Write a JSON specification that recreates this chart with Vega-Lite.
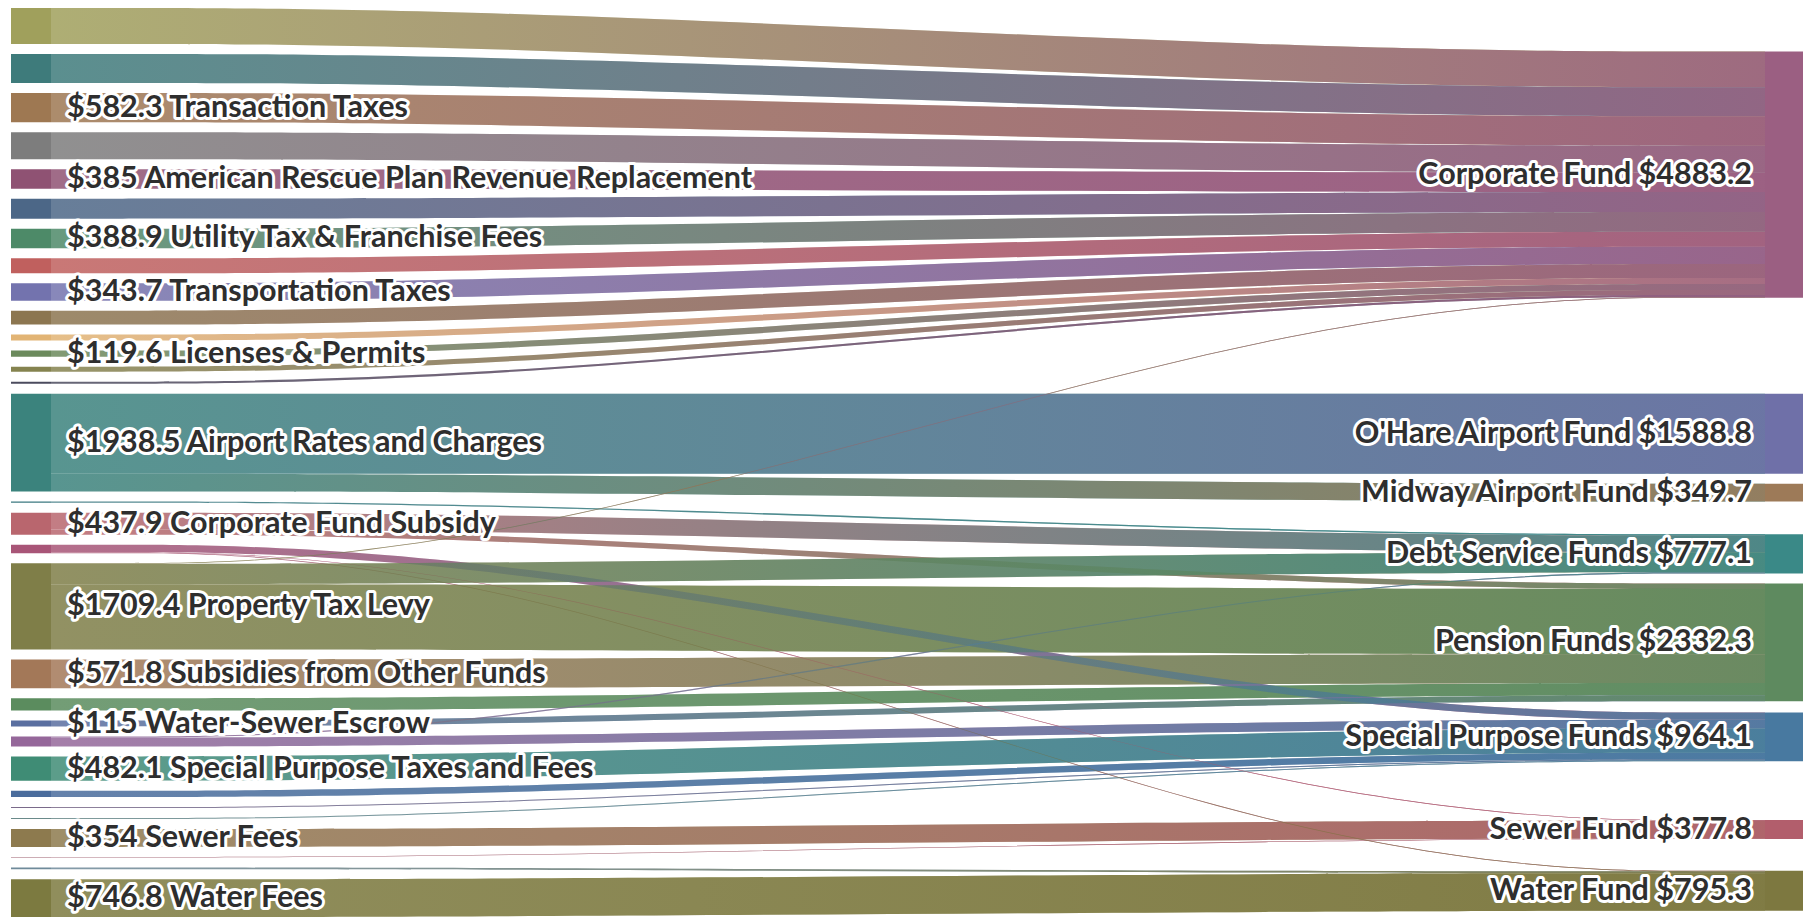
{
  "$schema": "https://vega.github.io/schema/vega-lite/v6.json",
  "width": 1805,
  "height": 917,
  "padding": 0,
  "autosize": {"type": "fit", "contains": "padding"},
  "background": "white",
  "config": {"view": {"stroke": null}},
  "datasets": {
    "nodes": [
      {"name": "Unlabeled 1", "order": 1},
      {"name": "Unlabeled 2", "order": 2},
      {"name": "Transaction Taxes", "order": 3},
      {"name": "Unlabeled 4", "order": 4},
      {"name": "American Rescue Plan Revenue Replacement", "order": 5},
      {"name": "Unlabeled 6", "order": 6},
      {"name": "Utility Tax & Franchise Fees", "order": 7},
      {"name": "Unlabeled 8", "order": 8},
      {"name": "Transportation Taxes", "order": 9},
      {"name": "Unlabeled 10", "order": 10},
      {"name": "Unlabeled 11", "order": 11},
      {"name": "Licenses & Permits", "order": 12},
      {"name": "Unlabeled 13", "order": 13},
      {"name": "Unlabeled 14", "order": 14},
      {"name": "Airport Rates and Charges", "order": 15},
      {"name": "Unlabeled 16", "order": 16},
      {"name": "Corporate Fund Subsidy", "order": 17},
      {"name": "Unlabeled 18", "order": 18},
      {"name": "Property Tax Levy", "order": 19},
      {"name": "Subsidies from Other Funds", "order": 20},
      {"name": "Unlabeled 21", "order": 21},
      {"name": "Water-Sewer Escrow", "order": 22},
      {"name": "Unlabeled 23", "order": 23},
      {"name": "Special Purpose Taxes and Fees", "order": 24},
      {"name": "Unlabeled 25", "order": 25},
      {"name": "Unlabeled 26", "order": 26},
      {"name": "Unlabeled 27", "order": 27},
      {"name": "Sewer Fees", "order": 28},
      {"name": "Unlabeled 29", "order": 29},
      {"name": "Unlabeled 30", "order": 30},
      {"name": "Water Fees", "order": 31},
      {"name": "Corporate Fund", "order": 1},
      {"name": "O'Hare Airport Fund", "order": 2},
      {"name": "Midway Airport Fund", "order": 3},
      {"name": "Debt Service Funds", "order": 4},
      {"name": "Pension Funds", "order": 5},
      {"name": "Special Purpose Funds", "order": 6},
      {"name": "Sewer Fund", "order": 7},
      {"name": "Water Fund", "order": 8}
    ],
    "links": [
      {"source": "Unlabeled 1", "target": "Corporate Fund", "value": 711.7},
      {"source": "Unlabeled 2", "target": "Corporate Fund", "value": 574},
      {"source": "Transaction Taxes", "target": "Corporate Fund", "value": 582.3},
      {"source": "Unlabeled 4", "target": "Corporate Fund", "value": 535},
      {"source": "American Rescue Plan Revenue Replacement", "target": "Corporate Fund", "value": 385},
      {"source": "Unlabeled 6", "target": "Corporate Fund", "value": 396},
      {"source": "Utility Tax & Franchise Fees", "target": "Corporate Fund", "value": 388.9},
      {"source": "Unlabeled 8", "target": "Corporate Fund", "value": 297},
      {"source": "Transportation Taxes", "target": "Corporate Fund", "value": 343.7},
      {"source": "Unlabeled 10", "target": "Corporate Fund", "value": 277},
      {"source": "Unlabeled 11", "target": "Corporate Fund", "value": 119},
      {"source": "Licenses & Permits", "target": "Corporate Fund", "value": 119.6},
      {"source": "Unlabeled 13", "target": "Corporate Fund", "value": 99},
      {"source": "Unlabeled 14", "target": "Corporate Fund", "value": 40},
      {"source": "Airport Rates and Charges", "target": "O'Hare Airport Fund", "value": 1588.8},
      {"source": "Airport Rates and Charges", "target": "Midway Airport Fund", "value": 349.7},
      {"source": "Unlabeled 16", "target": "Debt Service Funds", "value": 25},
      {"source": "Corporate Fund Subsidy", "target": "Debt Service Funds", "value": 330},
      {"source": "Corporate Fund Subsidy", "target": "Pension Funds", "value": 107.9},
      {"source": "Unlabeled 18", "target": "Special Purpose Funds", "value": 140},
      {"source": "Unlabeled 18", "target": "Sewer Fund", "value": 12},
      {"source": "Unlabeled 18", "target": "Water Fund", "value": 14},
      {"source": "Property Tax Levy", "target": "Corporate Fund", "value": 15},
      {"source": "Property Tax Levy", "target": "Debt Service Funds", "value": 400},
      {"source": "Property Tax Levy", "target": "Pension Funds", "value": 1294.4},
      {"source": "Subsidies from Other Funds", "target": "Pension Funds", "value": 571.8},
      {"source": "Unlabeled 21", "target": "Pension Funds", "value": 243.2},
      {"source": "Water-Sewer Escrow", "target": "Pension Funds", "value": 115},
      {"source": "Unlabeled 23", "target": "Debt Service Funds", "value": 22.1},
      {"source": "Unlabeled 23", "target": "Special Purpose Funds", "value": 175.9},
      {"source": "Special Purpose Taxes and Fees", "target": "Special Purpose Funds", "value": 482.1},
      {"source": "Unlabeled 25", "target": "Special Purpose Funds", "value": 126.1},
      {"source": "Unlabeled 26", "target": "Special Purpose Funds", "value": 20},
      {"source": "Unlabeled 27", "target": "Special Purpose Funds", "value": 20},
      {"source": "Sewer Fees", "target": "Sewer Fund", "value": 354},
      {"source": "Unlabeled 29", "target": "Sewer Fund", "value": 11.8},
      {"source": "Unlabeled 30", "target": "Water Fund", "value": 34.5},
      {"source": "Water Fees", "target": "Water Fund", "value": 746.8}
    ]
  },
  "data": {"name": "links"},
  "transform": [
    {"lookup": "source", "from": {"data": {"name": "nodes"}, "key": "name", "fields": ["order"]}, "as": ["so"]},
    {"lookup": "target", "from": {"data": {"name": "nodes"}, "key": "name", "fields": ["order"]}, "as": ["to"]},
    {"stack": "value", "groupby": [], "sort": [{"field": "so", "order": "ascending"}, {"field": "to", "order": "ascending"}], "as": ["l0", "l1"]},
    {"stack": "value", "groupby": [], "sort": [{"field": "to", "order": "ascending"}, {"field": "so", "order": "ascending"}], "as": ["r0", "r1"]},
    {"stack": "value", "groupby": ["target"], "sort": [{"field": "so", "order": "ascending"}], "as": ["o0", "o1"]},
    {"calculate": "158.5 + datum.l0 + (datum.so - 1) * 198.2", "as": "yL"},
    {"calculate": "datum.value * (datum.yL + datum.value / 2)", "as": "wc"},
    {"joinaggregate": [{"op": "sum", "field": "value", "as": "tt"}, {"op": "sum", "field": "wc", "as": "swc"}], "groupby": ["target"]},
    {"calculate": "(datum.r0 - datum.o0) + (datum.to - 1) * 198.2", "as": "cum"},
    {"calculate": "datum.swc / datum.tt - datum.tt / 2 - datum.cum", "as": "m"},
    {"window": [{"op": "max", "field": "m", "as": "um"}], "sort": [{"field": "to", "order": "ascending"}, {"field": "so", "order": "ascending"}], "frame": [null, 0]},
    {"calculate": "max(158.5, datum.um) + datum.cum + datum.o0", "as": "yR"},
    {"calculate": "datum.yL", "as": "p1"},
    {"calculate": "datum.yR", "as": "p2"},
    {"calculate": "datum.source + ' > ' + datum.target", "as": "lid"},
    {"fold": ["yL", "p1", "p2", "yR"], "as": ["k", "yt"]},
    {"calculate": "datum.k == 'yL' ? 51 : datum.k == 'p1' ? 480 : datum.k == 'p2' ? 1337 : 1765", "as": "px"},
    {"calculate": "datum.yt + datum.value", "as": "yb"}
  ],
  "layer": [
    {
      "mark": {"type": "area", "interpolate": "basis", "fillOpacity": 0.85},
      "encoding": {
        "x": {"field": "px", "type": "quantitative", "scale": {"domain": [0, 1805], "nice": false, "zero": false}, "axis": null},
        "y": {"field": "yt", "type": "quantitative", "scale": {"domain": [0, 18172.8], "nice": false, "zero": false, "reverse": true}, "axis": null, "stack": null},
        "y2": {"field": "yb"},
        "detail": {"field": "lid"},
        "color": {"field": "source", "type": "nominal", "legend": null,
          "scale": {
            "domain": ["Unlabeled 1","Unlabeled 2","Transaction Taxes","Unlabeled 4","American Rescue Plan Revenue Replacement","Unlabeled 6","Utility Tax & Franchise Fees","Unlabeled 8","Transportation Taxes","Unlabeled 10","Unlabeled 11","Licenses & Permits","Unlabeled 13","Unlabeled 14","Airport Rates and Charges","Unlabeled 16","Corporate Fund Subsidy","Unlabeled 18","Property Tax Levy","Subsidies from Other Funds","Unlabeled 21","Water-Sewer Escrow","Unlabeled 23","Special Purpose Taxes and Fees","Unlabeled 25","Unlabeled 26","Unlabeled 27","Sewer Fees","Unlabeled 29","Unlabeled 30","Water Fees","Corporate Fund","O'Hare Airport Fund","Midway Airport Fund","Debt Service Funds","Pension Funds","Special Purpose Funds","Sewer Fund","Water Fund"],
            "range": ["#a0a05c","#3e7b7b","#9e7852","#7d7d7d","#8f5273","#4c6787","#4d8a68","#c0605e","#7373ae","#8c7650","#e2b474","#6b8a5c","#85834f","#4b4b5e","#3b837d","#3b7880","#b9666e","#a85577","#7f7e48","#a37858","#5b8c5e","#5a6fa0","#95679a","#3f8c75","#4a6c9c","#7a6a8a","#6a8a8a","#8d7a4e","#9a5a6a","#6f8a9a","#7c7a40","#9b5f82","#6f70a8","#9d7a58","#3a8987","#5e8a5f","#4879a0","#b25e6c","#7d7840"]
          }
        }
      }
    },
    {
      "transform": [{"filter": {"field": "target", "equal": "Corporate Fund"}}],
      "mark": {"type": "area", "interpolate": "basis", "fill": {"gradient": "linear", "x1": 0, "y1": 0, "x2": 1, "y2": 0, "stops": [{"offset": 0, "color": "rgba(155,95,130,0)"}, {"offset": 1, "color": "rgba(155,95,130,0.85)"}]}},
      "encoding": {
        "x": {"field": "px", "type": "quantitative", "scale": {"domain": [0, 1805], "nice": false, "zero": false}, "axis": null},
        "y": {"field": "yt", "type": "quantitative", "scale": {"domain": [0, 18172.8], "nice": false, "zero": false, "reverse": true}, "axis": null, "stack": null},
        "y2": {"field": "yb"}, "detail": {"field": "lid"}
      }
    },
    {
      "transform": [{"filter": {"field": "target", "equal": "O'Hare Airport Fund"}}],
      "mark": {"type": "area", "interpolate": "basis", "fill": {"gradient": "linear", "x1": 0, "y1": 0, "x2": 1, "y2": 0, "stops": [{"offset": 0, "color": "rgba(111,112,168,0)"}, {"offset": 1, "color": "rgba(111,112,168,0.85)"}]}},
      "encoding": {
        "x": {"field": "px", "type": "quantitative", "scale": {"domain": [0, 1805], "nice": false, "zero": false}, "axis": null},
        "y": {"field": "yt", "type": "quantitative", "scale": {"domain": [0, 18172.8], "nice": false, "zero": false, "reverse": true}, "axis": null, "stack": null},
        "y2": {"field": "yb"}, "detail": {"field": "lid"}
      }
    },
    {
      "transform": [{"filter": {"field": "target", "equal": "Midway Airport Fund"}}],
      "mark": {"type": "area", "interpolate": "basis", "fill": {"gradient": "linear", "x1": 0, "y1": 0, "x2": 1, "y2": 0, "stops": [{"offset": 0, "color": "rgba(157,122,88,0)"}, {"offset": 1, "color": "rgba(157,122,88,0.85)"}]}},
      "encoding": {
        "x": {"field": "px", "type": "quantitative", "scale": {"domain": [0, 1805], "nice": false, "zero": false}, "axis": null},
        "y": {"field": "yt", "type": "quantitative", "scale": {"domain": [0, 18172.8], "nice": false, "zero": false, "reverse": true}, "axis": null, "stack": null},
        "y2": {"field": "yb"}, "detail": {"field": "lid"}
      }
    },
    {
      "transform": [{"filter": {"field": "target", "equal": "Debt Service Funds"}}],
      "mark": {"type": "area", "interpolate": "basis", "fill": {"gradient": "linear", "x1": 0, "y1": 0, "x2": 1, "y2": 0, "stops": [{"offset": 0, "color": "rgba(58,137,135,0)"}, {"offset": 1, "color": "rgba(58,137,135,0.85)"}]}},
      "encoding": {
        "x": {"field": "px", "type": "quantitative", "scale": {"domain": [0, 1805], "nice": false, "zero": false}, "axis": null},
        "y": {"field": "yt", "type": "quantitative", "scale": {"domain": [0, 18172.8], "nice": false, "zero": false, "reverse": true}, "axis": null, "stack": null},
        "y2": {"field": "yb"}, "detail": {"field": "lid"}
      }
    },
    {
      "transform": [{"filter": {"field": "target", "equal": "Pension Funds"}}],
      "mark": {"type": "area", "interpolate": "basis", "fill": {"gradient": "linear", "x1": 0, "y1": 0, "x2": 1, "y2": 0, "stops": [{"offset": 0, "color": "rgba(94,138,95,0)"}, {"offset": 1, "color": "rgba(94,138,95,0.85)"}]}},
      "encoding": {
        "x": {"field": "px", "type": "quantitative", "scale": {"domain": [0, 1805], "nice": false, "zero": false}, "axis": null},
        "y": {"field": "yt", "type": "quantitative", "scale": {"domain": [0, 18172.8], "nice": false, "zero": false, "reverse": true}, "axis": null, "stack": null},
        "y2": {"field": "yb"}, "detail": {"field": "lid"}
      }
    },
    {
      "transform": [{"filter": {"field": "target", "equal": "Special Purpose Funds"}}],
      "mark": {"type": "area", "interpolate": "basis", "fill": {"gradient": "linear", "x1": 0, "y1": 0, "x2": 1, "y2": 0, "stops": [{"offset": 0, "color": "rgba(72,121,160,0)"}, {"offset": 1, "color": "rgba(72,121,160,0.85)"}]}},
      "encoding": {
        "x": {"field": "px", "type": "quantitative", "scale": {"domain": [0, 1805], "nice": false, "zero": false}, "axis": null},
        "y": {"field": "yt", "type": "quantitative", "scale": {"domain": [0, 18172.8], "nice": false, "zero": false, "reverse": true}, "axis": null, "stack": null},
        "y2": {"field": "yb"}, "detail": {"field": "lid"}
      }
    },
    {
      "transform": [{"filter": {"field": "target", "equal": "Sewer Fund"}}],
      "mark": {"type": "area", "interpolate": "basis", "fill": {"gradient": "linear", "x1": 0, "y1": 0, "x2": 1, "y2": 0, "stops": [{"offset": 0, "color": "rgba(178,94,108,0)"}, {"offset": 1, "color": "rgba(178,94,108,0.85)"}]}},
      "encoding": {
        "x": {"field": "px", "type": "quantitative", "scale": {"domain": [0, 1805], "nice": false, "zero": false}, "axis": null},
        "y": {"field": "yt", "type": "quantitative", "scale": {"domain": [0, 18172.8], "nice": false, "zero": false, "reverse": true}, "axis": null, "stack": null},
        "y2": {"field": "yb"}, "detail": {"field": "lid"}
      }
    },
    {
      "transform": [{"filter": {"field": "target", "equal": "Water Fund"}}],
      "mark": {"type": "area", "interpolate": "basis", "fill": {"gradient": "linear", "x1": 0, "y1": 0, "x2": 1, "y2": 0, "stops": [{"offset": 0, "color": "rgba(125,120,64,0)"}, {"offset": 1, "color": "rgba(125,120,64,0.85)"}]}},
      "encoding": {
        "x": {"field": "px", "type": "quantitative", "scale": {"domain": [0, 1805], "nice": false, "zero": false}, "axis": null},
        "y": {"field": "yt", "type": "quantitative", "scale": {"domain": [0, 18172.8], "nice": false, "zero": false, "reverse": true}, "axis": null, "stack": null},
        "y2": {"field": "yb"}, "detail": {"field": "lid"}
      }
    },
    {
      "transform": [
        {"filter": {"field": "k", "equal": "yL"}},
        {"aggregate": [{"op": "min", "field": "yt", "as": "top"}, {"op": "max", "field": "yb", "as": "bot"}], "groupby": ["source"]}
      ],
      "mark": {"type": "rect"},
      "encoding": {
        "x": {"datum": 11, "type": "quantitative", "scale": {"domain": [0, 1805], "nice": false, "zero": false}, "axis": null},
        "x2": {"datum": 51},
        "y": {"field": "top", "type": "quantitative", "scale": {"domain": [0, 18172.8], "nice": false, "zero": false, "reverse": true}, "axis": null},
        "y2": {"field": "bot"},
        "color": {"field": "source", "type": "nominal", "legend": null}
      }
    },
    {
      "transform": [
        {"filter": {"field": "k", "equal": "yR"}},
        {"aggregate": [{"op": "min", "field": "yt", "as": "top"}, {"op": "max", "field": "yb", "as": "bot"}], "groupby": ["target"]}
      ],
      "mark": {"type": "rect"},
      "encoding": {
        "x": {"datum": 1765, "type": "quantitative", "scale": {"domain": [0, 1805], "nice": false, "zero": false}, "axis": null},
        "x2": {"datum": 1803},
        "y": {"field": "top", "type": "quantitative", "scale": {"domain": [0, 18172.8], "nice": false, "zero": false, "reverse": true}, "axis": null},
        "y2": {"field": "bot"},
        "color": {"field": "target", "type": "nominal", "legend": null}
      }
    },
    {
      "transform": [
        {"filter": {"field": "k", "equal": "yL"}},
        {"aggregate": [{"op": "min", "field": "yt", "as": "top"}, {"op": "max", "field": "yb", "as": "bot"}, {"op": "sum", "field": "value", "as": "tot"}], "groupby": ["source"]},
        {"filter": "!test(/^Unlabeled/, datum.source)"},
        {"calculate": "'$' + format(datum.tot, '.1~f') + ' ' + datum.source", "as": "label"},
        {"calculate": "(datum.top + datum.bot) / 2", "as": "ym"}
      ],
      "layer": [
        {
          "mark": {"type": "text", "align": "left", "baseline": "middle", "font": "Lato", "fontSize": 30.5, "fontWeight": "bold", "fill": "white", "stroke": "white", "strokeWidth": 6, "strokeJoin": "round"},
          "encoding": {
            "x": {"datum": 67, "type": "quantitative", "scale": {"domain": [0, 1805], "nice": false, "zero": false}, "axis": null},
            "y": {"field": "ym", "type": "quantitative", "scale": {"domain": [0, 18172.8], "nice": false, "zero": false, "reverse": true}, "axis": null},
            "text": {"field": "label"}
          }
        },
        {
          "mark": {"type": "text", "align": "left", "baseline": "middle", "font": "Lato", "fontSize": 30.5, "fontWeight": "bold", "fill": "#2e2e2e"},
          "encoding": {
            "x": {"datum": 67, "type": "quantitative", "scale": {"domain": [0, 1805], "nice": false, "zero": false}, "axis": null},
            "y": {"field": "ym", "type": "quantitative", "scale": {"domain": [0, 18172.8], "nice": false, "zero": false, "reverse": true}, "axis": null},
            "text": {"field": "label"}
          }
        }
      ]
    },
    {
      "transform": [
        {"filter": {"field": "k", "equal": "yR"}},
        {"aggregate": [{"op": "min", "field": "yt", "as": "top"}, {"op": "max", "field": "yb", "as": "bot"}, {"op": "sum", "field": "value", "as": "tot"}], "groupby": ["target"]},
        {"calculate": "datum.target + ' $' + format(datum.tot, '.1~f')", "as": "label"},
        {"calculate": "(datum.top + datum.bot) / 2", "as": "ym"}
      ],
      "layer": [
        {
          "mark": {"type": "text", "align": "right", "baseline": "middle", "font": "Lato", "fontSize": 30.5, "fontWeight": "bold", "fill": "white", "stroke": "white", "strokeWidth": 6, "strokeJoin": "round"},
          "encoding": {
            "x": {"datum": 1752, "type": "quantitative", "scale": {"domain": [0, 1805], "nice": false, "zero": false}, "axis": null},
            "y": {"field": "ym", "type": "quantitative", "scale": {"domain": [0, 18172.8], "nice": false, "zero": false, "reverse": true}, "axis": null},
            "text": {"field": "label"}
          }
        },
        {
          "mark": {"type": "text", "align": "right", "baseline": "middle", "font": "Lato", "fontSize": 30.5, "fontWeight": "bold", "fill": "#2e2e2e"},
          "encoding": {
            "x": {"datum": 1752, "type": "quantitative", "scale": {"domain": [0, 1805], "nice": false, "zero": false}, "axis": null},
            "y": {"field": "ym", "type": "quantitative", "scale": {"domain": [0, 18172.8], "nice": false, "zero": false, "reverse": true}, "axis": null},
            "text": {"field": "label"}
          }
        }
      ]
    }
  ]
}
